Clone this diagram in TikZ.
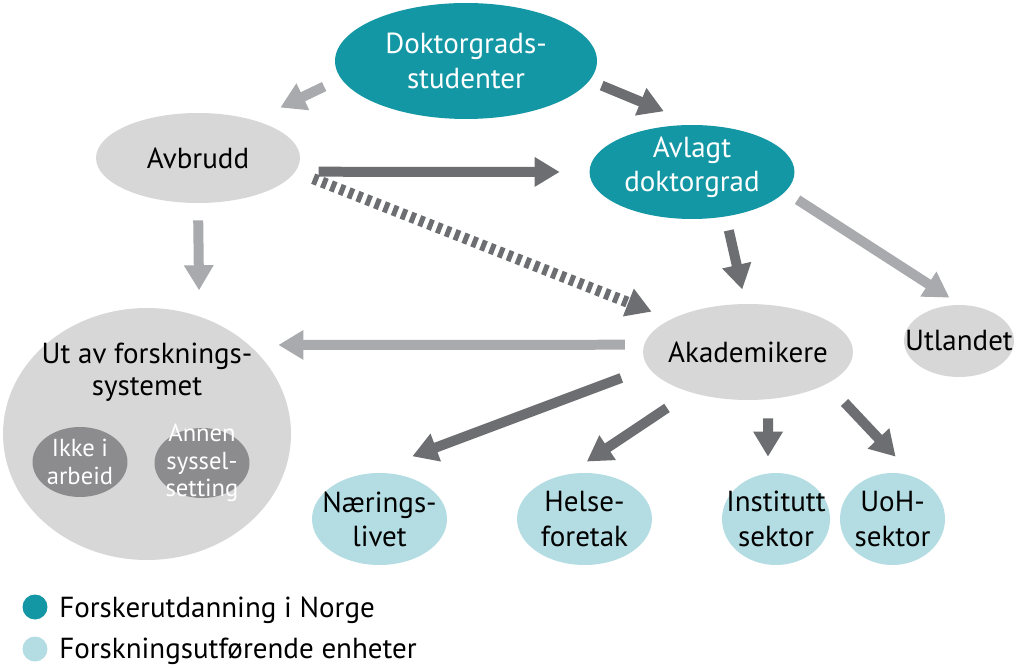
\documentclass[tikz,border=0pt]{standalone}
\usepackage{fontspec}
\setmainfont{PT Sans}
\usetikzlibrary{shapes.geometric,arrows.meta}
\definecolor{tealc}{HTML}{1497A4}
\definecolor{lightblue}{HTML}{B3DDE3}
\definecolor{nodegray}{HTML}{D7D7D8}
\definecolor{innergray}{HTML}{8C8C8E}
\definecolor{darkarrow}{HTML}{6D6E71}
\definecolor{lightarrow}{HTML}{A9AAAD}
\begin{document}
\begin{tikzpicture}[x=0.02cm,y=-0.02cm,
  ell/.style={ellipse, inner sep=0pt, draw=none},
  gnode/.style={ell, fill=nodegray},
  tnode/.style={ell, fill=tealc},
  bnode/.style={ell, fill=lightblue},
  inode/.style={ell, fill=innergray},
  txt/.style={align=center, font=\fontsize{16.5}{19.5}\selectfont},
  stxt/.style={align=center, text=white, font=\fontsize{14}{15.5}\selectfont},
  arrtip/.style={-{Triangle[length=0.5cm,width=0.56cm]}},
  darr/.style={line width=0.2cm, draw=darkarrow, arrtip},
  larr/.style={line width=0.2cm, draw=lightarrow, arrtip},
  dasharr/.style={line width=0.22cm, draw=darkarrow, dash pattern=on 0.1cm off 0.09cm, arrtip},
]
\useasboundingbox (0,0) rectangle (1023,668);
\fill[white] (0,0) rectangle (1023,668);

% nodes
\node[tnode, minimum width=5.24cm, minimum height=2.32cm,
  label={[txt,text=white]center:Doktorgrads-\\studenter}] (dok) at (466,61) {};
\node[gnode, minimum width=4.08cm, minimum height=1.8cm,
  label={[txt]center:Avbrudd}] (avb) at (198,158) {};
\node[tnode, minimum width=4.1cm, minimum height=1.88cm,
  label={[txt,text=white,yshift=0.1cm]center:Avlagt\\doktorgrad}] (avl) at (692,172) {};
\node[gnode, minimum width=5.76cm, minimum height=5.04cm,
  label={[txt,font=\fontsize{16.5}{18.5}\selectfont,yshift=1.24cm]center:Ut av forsknings-\\systemet}] (ut) at (147,434) {};
\node[inode, minimum width=1.9cm, minimum height=1.4cm,
  label={[stxt]center:Ikke i\\arbeid}] (ikke) at (80,462) {};
\node[inode, minimum width=1.9cm, minimum height=1.4cm,
  label={[stxt]center:Annen\\syssel-\\setting}] (annen) at (202,463) {};
\node[gnode, minimum width=4.2cm, minimum height=1.92cm,
  label={[txt]center:Akademikere}] (akad) at (748,352) {};
\node[gnode, minimum width=2.2cm, minimum height=1.44cm,
  label={[txt]center:Utlandet}] (utl) at (959,341) {};
\node[bnode, minimum width=2.7cm, minimum height=1.84cm,
  label={[txt]center:Nærings-\\livet}] (naer) at (379.5,519) {};
\node[bnode, minimum width=2.7cm, minimum height=1.84cm,
  label={[txt]center:Helse-\\foretak}] (helse) at (584.5,519) {};
\node[bnode, minimum width=2.16cm, minimum height=1.84cm,
  label={[txt]center:Institutt\\sektor}] (inst) at (776,519) {};
\node[bnode, minimum width=2.1cm, minimum height=1.84cm,
  label={[txt]center:UoH-\\sektor}] (uoh) at (892.5,519) {};

% connectors
\draw[larr, shorten <=0.37cm, shorten >=0.58cm] (dok.188.4) -- (avb.34.1);
\draw[darr, shorten <=0.26cm, shorten >=0.7cm] (dok.-9.9) -- (avl.85.7);
\draw[darr, shorten <=0.46cm, shorten >=0.59cm] (avb.-8.2) -- (avl.180);
\draw[dasharr, shorten <=0.38cm, shorten >=0.41cm] (avb.-8.9) -- (akad.157.1);
\draw[larr, shorten <=0.34cm, shorten >=0.52cm] (avb.-90) -- (ut.66.6);
\draw[darr, shorten <=0.28cm, shorten >=0.29cm] (avl.-53.6) -- (akad.93.2);
\draw[larr, shorten <=0.29cm, shorten >=0.26cm] (avl.-12.3) -- (utl.88.3);
\draw[larr, shorten <=0.38cm, shorten >=0.58cm] (akad.176.1) -- (ut.41.1);
\draw[darr, shorten <=0.58cm, shorten >=0.98cm] (akad.189.2) -- (naer.106.7);
\draw[darr, shorten <=0.56cm, shorten >=0.45cm] (akad.215.5) -- (helse.110);
\draw[darr, shorten <=0.38cm, shorten >=0.33cm] (akad.-67) -- (inst.100);
\draw[darr, shorten <=0.51cm, shorten >=0.56cm] (akad.-22.3) -- (uoh.62.4);

% legend
\node[circle, fill=tealc, minimum size=0.5cm, inner sep=0pt] (lg1) at (35,607) {};
\node[circle, fill=lightblue, minimum size=0.5cm, inner sep=0pt] (lg2) at (35,649) {};
\node[txt, anchor=base west, inner sep=0pt] (lt1) at (59,617) {Forskerutdanning i Norge};
\node[txt, anchor=base west, inner sep=0pt] (lt2) at (59,658) {Forskningsutførende enheter};
\end{tikzpicture}
\end{document}
